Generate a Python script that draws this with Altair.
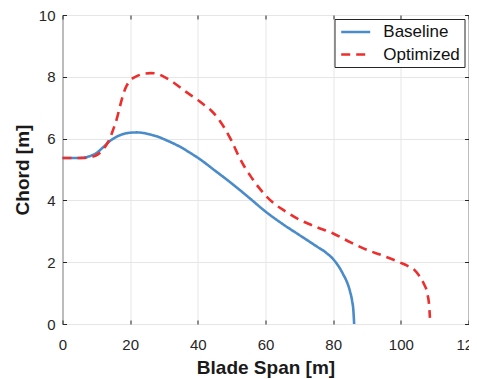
import altair as alt
import pandas as pd

# ---- data ----
series_names = ["Baseline", "Optimized"]

base_x = [0, 3, 6, 8, 10, 12, 14, 16, 18, 20, 22, 24, 26, 28, 30, 35, 38, 40, 45,
          50, 55, 60, 65, 70, 75, 78, 80, 82, 83, 84, 85, 85.6, 86.0, 86.2]
base_y = [5.37, 5.37, 5.38, 5.43, 5.53, 5.72, 5.92, 6.06, 6.15, 6.19, 6.2, 6.18,
          6.13, 6.07, 5.98, 5.72, 5.52, 5.38, 4.97, 4.55, 4.1, 3.64, 3.24, 2.88,
          2.52, 2.3, 2.1, 1.8, 1.6, 1.38, 1.05, 0.75, 0.4, 0.0]

opt_x = [0, 3, 6, 8, 10, 12, 13, 14, 15, 16, 17, 18, 19, 20, 22, 24, 26, 28, 30,
         33, 36, 40, 42, 44, 46, 48, 50, 52, 54, 56, 58, 60, 63, 66, 70, 75, 80,
         85, 90, 95, 100, 102, 104, 105.5, 106.8, 107.8, 108.4, 108.6]
opt_y = [5.37, 5.37, 5.37, 5.4, 5.46, 5.65, 5.8, 6.0, 6.3, 6.62, 7.05, 7.45, 7.72,
         7.88, 8.02, 8.1, 8.12, 8.1, 8.0, 7.8, 7.55, 7.25, 7.08, 6.9, 6.65, 6.32,
         5.92, 5.45, 5.05, 4.72, 4.42, 4.16, 3.86, 3.64, 3.38, 3.14, 2.93, 2.65,
         2.4, 2.2, 1.98, 1.88, 1.75, 1.55, 1.3, 1.0, 0.56, 0.2]

x_ticks = [0, 20, 40, 60, 80, 100, 120]
y_ticks = [0, 2, 4, 6, 8, 10]

df = pd.concat([
    pd.DataFrame({"span": base_x, "chord": base_y, "series": series_names[0]}),
    pd.DataFrame({"span": opt_x, "chord": opt_y, "series": series_names[1]}),
], ignore_index=True)

FONT = "Liberation Sans"
DARK = "#262626"

xs = alt.Scale(domain=[0, 120], nice=False, zero=False)
ys = alt.Scale(domain=[0, 10], nice=False, zero=False)

legend = alt.Legend(
    title=None, orient="top-right", offset=4, fillColor="white",
    strokeColor=DARK, padding=4, symbolType="M-2,0H2", symbolSize=210,
    symbolStrokeWidth=2.6, symbolOffset=8.2, labelFontSize=17, labelFont=FONT,
    labelColor="#111111", labelOffset=18.6, rowPadding=5.5,
)

main = alt.Chart(df).mark_line(strokeWidth=2.6, interpolate="monotone").encode(
    x=alt.X("span:Q", scale=xs, axis=alt.Axis(
        orient="bottom", values=x_ticks, title="Blade Span [m]", offset=-4,
        tickSize=4, labelPadding=13, titlePadding=6, domain=False, grid=True,
        labelFlush=False)),
    y=alt.Y("chord:Q", scale=ys, axis=alt.Axis(
        orient="left", values=y_ticks, title="Chord [m]", offset=-4,
        tickSize=4, labelPadding=7.5, titlePadding=6, domain=False, grid=True,
        labelFlush=False)),
    color=alt.Color("series:N", scale=alt.Scale(domain=series_names,
                    range=["#4A8BC9", "#EE2D2D"]), legend=legend),
    strokeDash=alt.StrokeDash("series:N", scale=alt.Scale(domain=series_names,
                    range=[[1, 0], [9, 6]]), legend=legend),
)

frame_ticks = alt.Chart(df).mark_line(opacity=0).encode(
    x=alt.X("span:Q", scale=xs, axis=alt.Axis(
        orient="top", values=x_ticks, labels=False, title=None, offset=-4,
        tickSize=4, domain=False, grid=False)),
    y=alt.Y("chord:Q", scale=ys, axis=alt.Axis(
        orient="right", values=y_ticks, labels=False, title=None, offset=-4,
        tickSize=4, domain=False, grid=False)),
    detail="series:N",
)

chart = alt.layer(main, frame_ticks).resolve_axis(
    x="independent", y="independent"
).properties(
    width=406, height=309,
    autosize=alt.AutoSizeParams(type="none"),
    padding={"left": 54.5, "top": 7, "right": 0.5, "bottom": 55},
).configure_view(
    stroke=DARK, strokeWidth=1
).configure_axis(
    labelFont=FONT, labelFontSize=15, labelColor=DARK,
    titleFont=FONT, titleFontSize=19, titleFontWeight="bold", titleColor="#1a1a1a",
    tickColor=DARK, tickWidth=1, gridColor="#e6e6e6", gridWidth=1,
)

chart.save("out.html", embed_options={"renderer": "svg", "actions": False})
